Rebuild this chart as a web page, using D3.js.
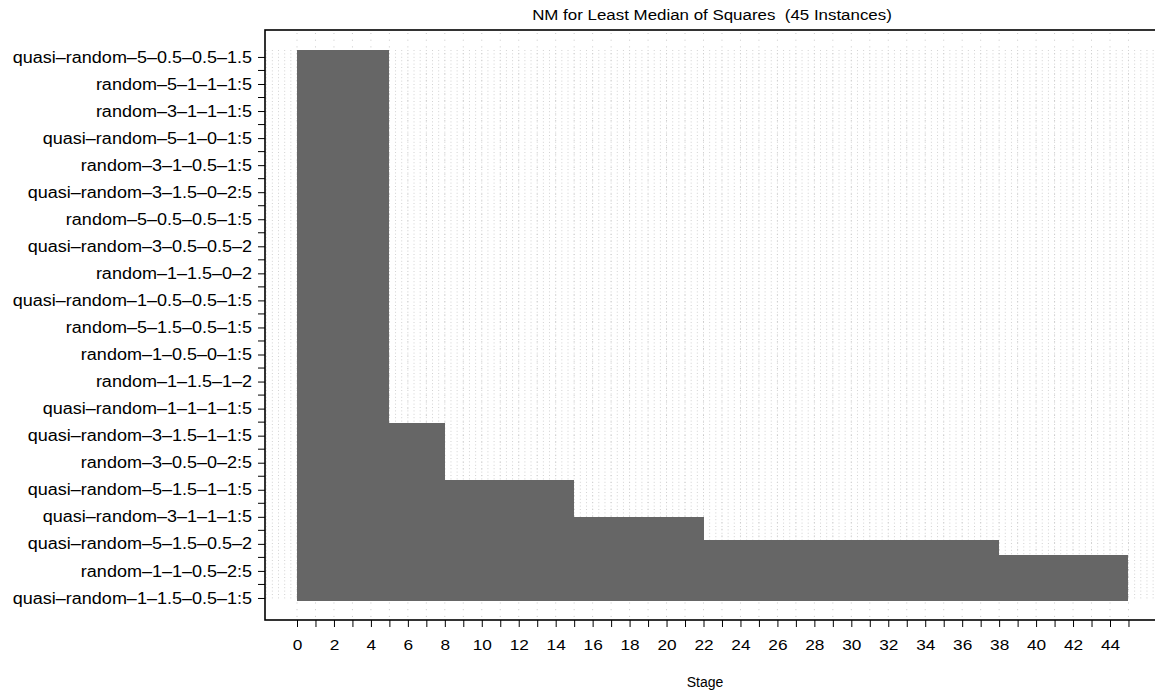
<!DOCTYPE html>
<html>
<head>
<meta charset="utf-8">
<script src="https://cdn.jsdelivr.net/npm/d3@7"></script>
<style>
  body { margin: 0; background: #fff; }
  text { font-family: "Liberation Sans", Arial, sans-serif; fill: #000; }
</style>
</head>
<body>
<div id="chart"></div>
<script>
// labelled configurations (every 20th row, top to bottom)
const configLabels = [
  "quasi–random–5–0.5–0.5–1.5",
  "random–5–1–1–1:5",
  "random–3–1–1–1:5",
  "quasi–random–5–1–0–1:5",
  "random–3–1–0.5–1:5",
  "quasi–random–3–1.5–0–2:5",
  "random–5–0.5–0.5–1:5",
  "quasi–random–3–0.5–0.5–2",
  "random–1–1.5–0–2",
  "quasi–random–1–0.5–0.5–1:5",
  "random–5–1.5–0.5–1:5",
  "random–1–0.5–0–1:5",
  "random–1–1.5–1–2",
  "quasi–random–1–1–1–1:5",
  "quasi–random–3–1.5–1–1:5",
  "random–3–0.5–0–2:5",
  "quasi–random–5–1.5–1–1:5",
  "quasi–random–3–1–1–1:5",
  "quasi–random–5–1.5–0.5–2",
  "random–1–1–0.5–2:5",
  "quasi–random–1–1.5–0.5–1:5"
];
// stage at which each block of configurations was dropped, and block sizes
const eliminationStage = [5, 8, 15, 22, 38, 45];
const blockSize = [276, 42, 28, 17, 11, 33];
const stageTicks = d3.range(0, 46);

const width = 1155, height = 694;
const box = { left: 265, top: 30, bottom: 620, right: 1162 };

// one row per configuration
const rows = [];
eliminationStage.forEach((s, i) => {
  for (let k = 0; k < blockSize[i]; k++) rows.push(s);
});
const nRows = rows.length;

const svg = d3.select("#chart").append("svg")
  .attr("width", width)
  .attr("height", height);

const x = d3.scaleLinear().domain([0, 44]).range([297, 1110]);
const y = d3.scaleLinear().domain([0, nRows]).range([49.5, 600]);

// the reference text is drawn a bit wider than the font
function widen(sel, k) {
  sel.each(function () {
    const w = this.getComputedTextLength();
    d3.select(this).attr("textLength", w * k).attr("lengthAdjust", "spacingAndGlyphs");
  });
}

// dotted background grid
const grid = svg.append("g");
grid.selectAll("line.sparse")
  .data(stageTicks)
  .enter().append("line")
  .attr("x1", d => x(d)).attr("x2", d => x(d))
  .attr("y1", 33).attr("y2", 617)
  .attr("stroke", "#c8c8c8")
  .attr("stroke-dasharray", "1,5.7");
grid.selectAll("line.dense")
  .data(d3.range(-5, 141))
  .enter().append("line")
  .attr("x1", d => x(d / 3)).attr("x2", d => x(d / 3))
  .attr("y1", 50).attr("y2", 600)
  .attr("stroke", "#d2d2d2")
  .attr("stroke-dasharray", "1,2.4");

// bars: one thin bar per configuration
svg.append("g")
  .attr("shape-rendering", "crispEdges")
  .selectAll("rect")
  .data(rows)
  .enter().append("rect")
  .attr("x", x(0))
  .attr("y", (d, i) => y(i))
  .attr("width", d => x(d) - x(0))
  .attr("height", y(1) - y(0) + 0.5)
  .attr("fill", "#666666");

// frame
svg.append("rect")
  .attr("x", box.left).attr("y", box.top)
  .attr("width", box.right - box.left)
  .attr("height", box.bottom - box.top)
  .attr("fill", "none")
  .attr("stroke", "#000")
  .attr("stroke-width", 1.6);

// x axis
const xAxis = svg.append("g")
  .attr("transform", `translate(0,${box.bottom})`)
  .call(d3.axisBottom(x)
    .tickValues(stageTicks)
    .tickSize(7)
    .tickPadding(12)
    .tickFormat(d => d % 2 === 0 ? d : ""));
xAxis.select(".domain").remove();
xAxis.selectAll("line").attr("stroke", "#000");
xAxis.selectAll("text").style("font-size", "15px").attr("font-family", null).call(widen, 1.15);

// y axis: major ticks with labels, minor ticks between
const majorRows = configLabels.map((d, i) => 5.5 + i * 20);
const minorRows = d3.range(configLabels.length - 1).map(i => 15.5 + i * 20);

const yAxis = svg.append("g")
  .attr("transform", `translate(${box.left},0)`)
  .call(d3.axisLeft(y)
    .tickValues(majorRows)
    .tickSize(7)
    .tickPadding(6)
    .tickFormat((d, i) => configLabels[i]));
yAxis.select(".domain").remove();
yAxis.selectAll("line").attr("stroke", "#000");
yAxis.selectAll("text").style("font-size", "16px").attr("font-family", null).call(widen, 1.125);

svg.append("g")
  .selectAll("line")
  .data(minorRows)
  .enter().append("line")
  .attr("x1", box.left - 7).attr("x2", box.left)
  .attr("y1", d => y(d)).attr("y2", d => y(d))
  .attr("stroke", "#000");

// title and axis label
svg.append("text")
  .attr("x", 712).attr("y", 20)
  .attr("text-anchor", "middle")
  .style("font-size", "15.5px")
  .style("white-space", "pre")
  .text("NM for Least Median of Squares  (45 Instances)")
  .call(widen, 1.09);

svg.append("text")
  .attr("x", 705).attr("y", 687)
  .attr("text-anchor", "middle")
  .style("font-size", "14px")
  .text("Stage");
</script>
</body>
</html>
